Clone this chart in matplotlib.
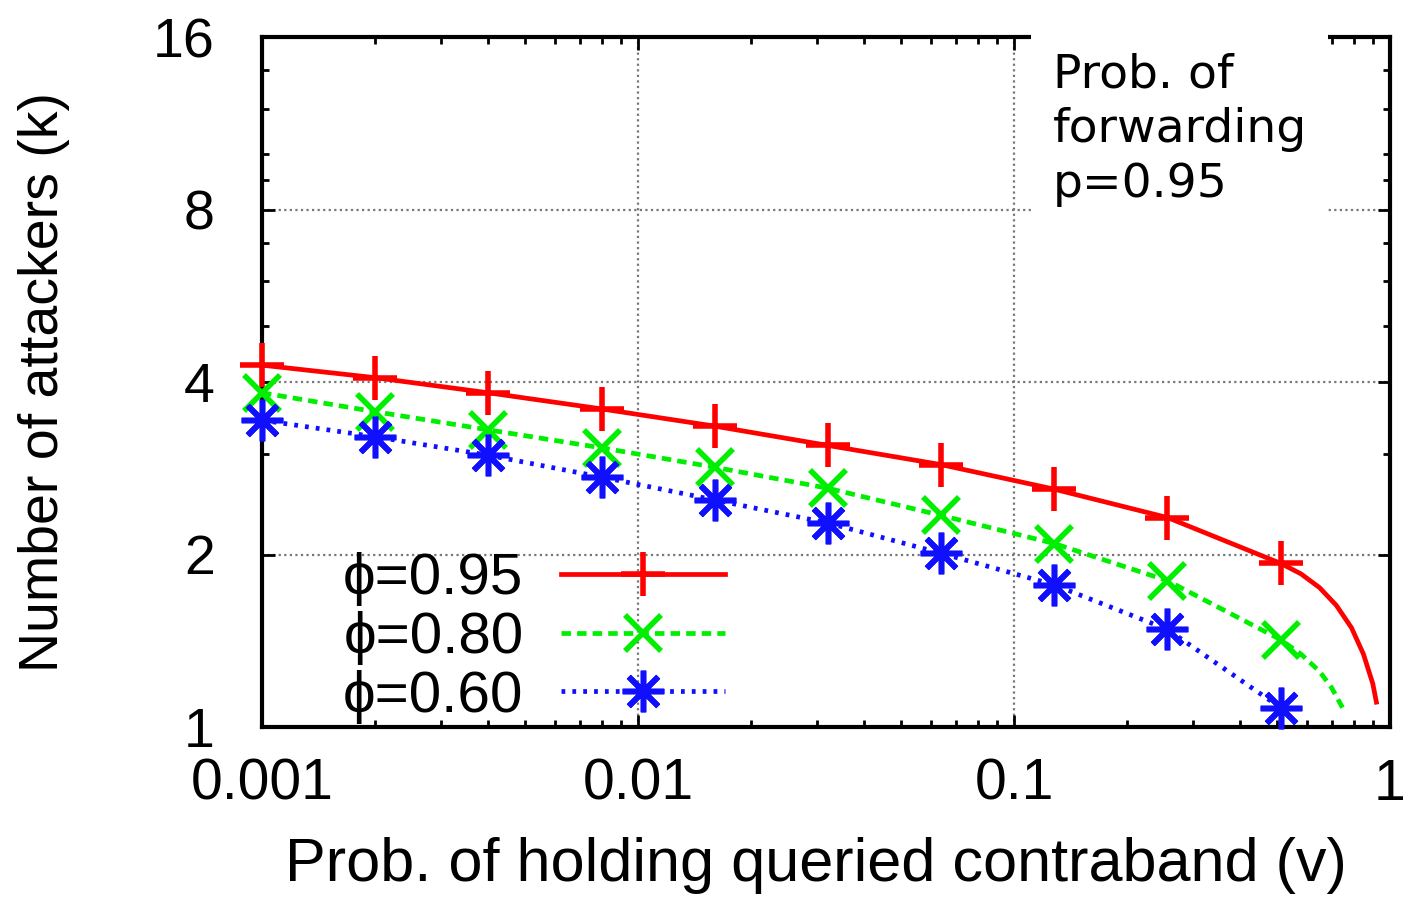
import matplotlib
matplotlib.use("Agg")
import matplotlib.pyplot as plt
from matplotlib.lines import Line2D
from matplotlib.ticker import FixedLocator, NullFormatter, LogLocator

# ---- data ----
v_marks = [0.001, 0.002, 0.004, 0.008, 0.016, 0.032, 0.064, 0.128, 0.256, 0.512]
k_phi95 = [4.28, 4.07, 3.83, 3.59, 3.35, 3.10, 2.87, 2.60, 2.32, 1.93]
k_phi80 = [3.83, 3.55, 3.30, 3.07, 2.84, 2.61, 2.34, 2.09, 1.80, 1.42]
k_phi60 = [3.43, 3.21, 2.98, 2.73, 2.49, 2.27, 2.01, 1.77, 1.48, 1.08]

# curve tails beyond the last marker
v_tail95 = [0.58, 0.65, 0.72, 0.79, 0.85, 0.90, 0.92]
k_tail95 = [1.85, 1.75, 1.63, 1.49, 1.34, 1.19, 1.105]
v_tail80 = [0.58, 0.65, 0.70, 0.748]
k_tail80 = [1.34, 1.25, 1.17, 1.08]
v_tail60 = []
k_tail60 = []

labels = ["ϕ=0.95", "ϕ=0.80", "ϕ=0.60"]
colors = ["#ff0000", "#00ee00", "#1010ff"]
y_ticks = [1, 2, 4, 8, 16]
y_minor = [3, 5, 6, 7, 9, 10, 12, 14]
x_ticks = [0.001, 0.01, 0.1, 1]
x_ticklabels = ["0.001", "0.01", "0.1", "1"]

FONT = ["Liberation Sans", "DejaVu Sans"]
plt.rcParams["font.family"] = FONT

fig = plt.figure(figsize=(14.1, 8.98), dpi=100)
ax = fig.add_axes([262/1410, 1-727/898, (1390-262)/1410, (727-37)/898])

ax.set_xscale("log")
ax.set_yscale("log", base=2)
ax.set_xlim(0.001, 1)
ax.set_ylim(1, 16)

series = [
    (k_phi95, v_tail95, k_tail95, "-", "+", 32, 4.0),
    (k_phi80, v_tail80, k_tail80, (0, (2.0, 1.3)), "x", 26, 4.0),
    (k_phi60, v_tail60, k_tail60, (0, (0.8, 1.5)), (8, 2, 0), 30, 4.0),
]
handles = []
for (ks, vt, kt, ls, mk, ms, mew), col, lab in zip(series, colors, labels):
    ax.plot(list(v_marks) + list(vt), list(ks) + list(kt), color=col, ls=ls,
            lw=3.4, zorder=3)
    ax.plot(v_marks, ks, ls="none", marker=mk, ms=ms, mew=mew, color=col,
            zorder=4, clip_on=False)
    handles.append(Line2D([], [], color=col, ls=ls, lw=3.4, marker=mk,
                          ms=ms, mew=mew))

ax.set_xticks(x_ticks)
ax.set_xticklabels(x_ticklabels)
ax.xaxis.set_minor_locator(LogLocator(base=10, subs=range(2, 10)))
ax.xaxis.set_minor_formatter(NullFormatter())
ax.set_yticks(y_ticks)
ax.set_yticklabels([str(t) for t in y_ticks])
ax.yaxis.set_minor_locator(FixedLocator(y_minor))
ax.yaxis.set_minor_formatter(NullFormatter())

ax.tick_params(which="both", direction="in", top=True, right=True,
               width=2, color="black")
ax.tick_params(which="major", length=9)
ax.tick_params(which="minor", length=5)
ax.tick_params(axis="x", which="major", labelsize=41, pad=22)
ax.tick_params(axis="y", which="major", labelsize=40, pad=34)

for sp in ax.spines.values():
    sp.set_linewidth(3)

ax.grid(True, which="major", color="#777777", ls=(0, (1, 1.5)), lw=1.6)

ax.set_xlabel("Prob. of holding queried contraband (v)", fontsize=44)
ax.xaxis.set_label_coords(0.491, -0.16)
ax.set_ylabel("Number of attackers (k)", fontsize=40)
ax.yaxis.set_label_coords(-0.17, 0.5)

leg = ax.legend(handles, labels, loc="center", bbox_to_anchor=(0.2410, 0.1290),
                frameon=False, markerfirst=False, fontsize=42, handlelength=2.8,
                handletextpad=0.65, labelspacing=0.08, borderpad=0, numpoints=1)

ax.text(0.701, 0.978, "Prob. of\nforwarding\np=0.95", transform=ax.transAxes,
        ha="left", va="top", fontsize=34, family=["DejaVu Sans"],
        linespacing=1.28, zorder=6,
        bbox=dict(boxstyle="square,pad=0.45", fc="white", ec="none"))

fig.savefig("out.png", dpi=100)
